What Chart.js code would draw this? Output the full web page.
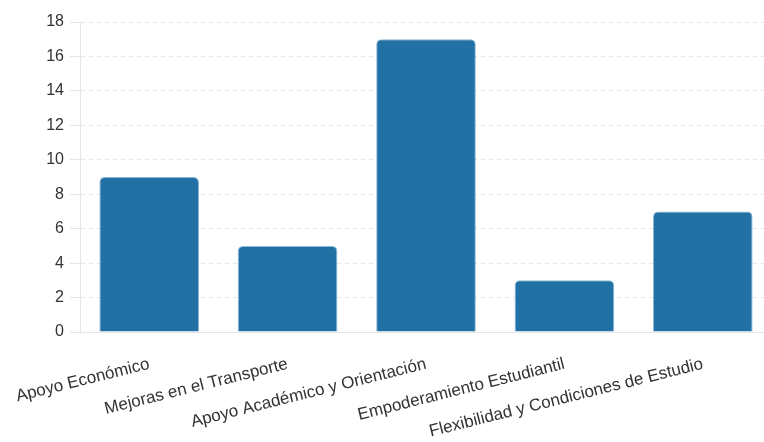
<!DOCTYPE html>
<html>
<head>
<meta charset="utf-8">
<script src="https://cdn.jsdelivr.net/npm/chart.js@4"></script>
<style>
  html, body { margin: 0; padding: 0; background: #fff; overflow: hidden; }
  #wrap { width: 764px; height: 442px; overflow: hidden; }
</style>
</head>
<body>
<div id="wrap"><canvas id="apoyoChart" width="772" height="442"></canvas></div>
<script>
// Categories and counts
const categories = [
  "Apoyo Económico",
  "Mejoras en el Transporte",
  "Apoyo Académico y Orientación",
  "Empoderamiento Estudiantil",
  "Flexibilidad y Condiciones de Estudio"
];
const counts = [9, 5, 17, 3, 7];
const yMax = 18;
const yStep = 2;

Chart.defaults.font.family = "Arial, 'Liberation Sans', sans-serif";
Chart.defaults.color = "#333";

const ctx = document.getElementById("apoyoChart").getContext("2d");

new Chart(ctx, {
  type: "bar",
  data: {
    labels: categories,
    datasets: [
      {
        data: counts,
        backgroundColor: "#2171a4",
        borderColor: "rgba(60, 140, 190, 0.6)",
        borderWidth: 1,
        borderRadius: 5,
        borderSkipped: "bottom"
      }
    ]
  },
  options: {
    responsive: false,
    animation: false,
    layout: {
      padding: { top: 22, left: 0, right: 0, bottom: 0 }
    },
    plugins: {
      legend: { display: false },
      tooltip: { enabled: false }
    },
    scales: {
      x: {
        grid: { display: false },
        border: { color: "#e6e6e6" },
        ticks: {
          font: { size: 17 },
          color: "#333",
          minRotation: 14,
          maxRotation: 14,
          padding: 14,
          autoSkip: false
        },
        // keep the label band the same as in the reference
        afterFit: (scale) => {
          scale.height = 110;
          scale.paddingLeft = 0;
        }
      },
      y: {
        min: 0,
        max: yMax,
        grid: {
          color: "#e6e6e6",
          tickLength: 10,
          tickBorderDash: []
        },
        border: { color: "#e6e6e6", dash: [4, 4] },
        ticks: {
          stepSize: yStep,
          font: { size: 16 },
          color: "#333",
          padding: 6
        },
        afterFit: (scale) => { scale.width = 80; }
      }
    }
  }
});
</script>
</body>
</html>
